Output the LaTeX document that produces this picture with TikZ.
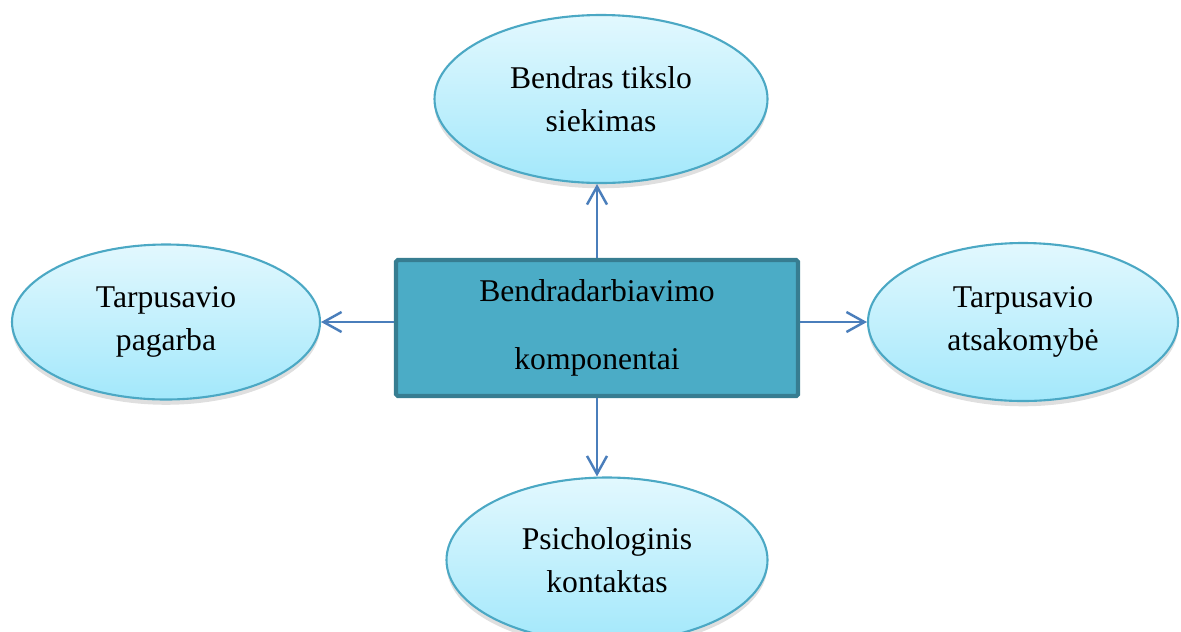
\documentclass[tikz,border=0pt]{standalone}
\usepackage{fontspec}
\setmainfont{Liberation Serif}
\usetikzlibrary{arrows.meta,shadows,shapes.geometric}

\definecolor{ovaltop}{RGB}{226,248,254}
\definecolor{ovalbottom}{RGB}{163,232,251}
\definecolor{ovalline}{RGB}{75,168,196}
\definecolor{boxfill}{RGB}{75,172,198}
\definecolor{boxline}{RGB}{55,125,145}
\definecolor{arrowblue}{RGB}{74,126,187}

\begin{document}
\begin{tikzpicture}[scale=1,
  oval node/.style={ellipse,draw=ovalline,line width=0.6pt,top color=ovaltop,bottom color=ovalbottom,
    align=center,inner sep=0pt,font=\fontsize{9}{12.2}\selectfont,
    drop shadow={shadow xshift=0pt,shadow yshift=-1.5pt,opacity=0.25}},
  main box/.style={rectangle,draw=boxline,line width=1.2pt,fill=boxfill,rounded corners=0.5pt,
    align=center,inner sep=0pt,font=\fontsize{9}{19.3}\selectfont},
  link/.style={draw=arrowblue,line width=0.7pt,-{Straight Barb[length=1.8mm,width=2mm]}}]

  \useasboundingbox (0,0) rectangle (11.81,6.31);
  \clip (0,0) rectangle (11.81,6.31);

  \node[main box,minimum width=4.02cm,minimum height=1.36cm] (box) at (5.97,3.03) {Bendradarbiavimo\\komponentai};
  \node[oval node,minimum width=3.33cm,minimum height=1.68cm] (goal) at (6.01,5.32) {Bendras tikslo\\siekimas};
  \node[oval node,minimum width=3.08cm,minimum height=1.55cm] (respect) at (1.66,3.09) {Tarpusavio\\pagarba};
  \node[oval node,minimum width=3.10cm,minimum height=1.58cm] (duty) at (10.23,3.09) {Tarpusavio\\atsakomybė};
  \node[oval node,minimum width=3.21cm,minimum height=1.65cm] (contact) at (6.07,0.71) {Psichologinis\\kontaktas};

  \path[every edge/.style={link}]
   (box.north) edge (box.north |- goal.south)
   (box.west |- respect.east) edge (respect.east)
   (box.east |- duty.west) edge (duty.west)
   (box.south) edge (box.south |- contact.north);
\end{tikzpicture}
\end{document}
